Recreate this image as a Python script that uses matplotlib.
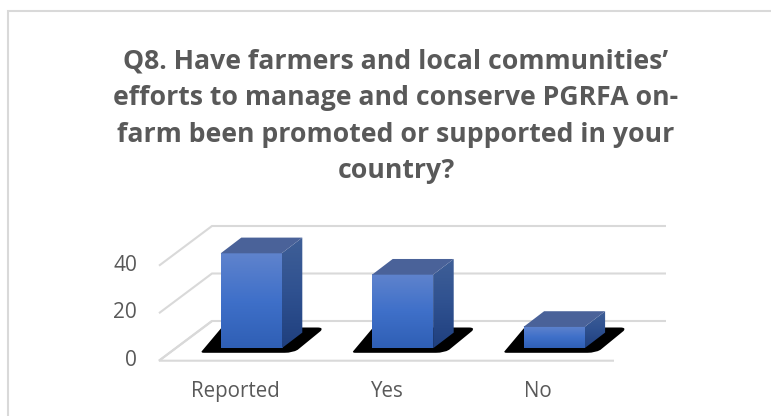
import matplotlib
matplotlib.use("Agg")
import matplotlib.pyplot as plt
import numpy as np
from matplotlib.patches import Polygon, PathPatch
from matplotlib.path import Path

categories = ["Reported", "Yes", "No"]
values = [40, 31, 9]
y_ticks = [0, 20, 40]
title_lines = [
    "Q8. Have farmers and local communities’",
    "efforts to manage and conserve PGRFA on-",
    "farm been promoted or supported in your",
    "country?",
]

W, H = 771, 416
GRID = "#d9d9d9"
TEXT = "#595959"
FONT = "Open Sans"

# Oblique projection: x is category position, y is value, depth is a pixel shift
PX_PER_UNIT = 95 / 40
X0, X_STEP, BASE_Y = 251.2, 151.4, 348.3
BAR_W = 61.0
DEPTH_X, DEPTH_Y = 20.6, 15.7
FLOOR_FRONT_Y, FLOOR_BACK_Y = 360.7, 321.0


def px_x(px):
    return (px - X0) / X_STEP


def val_y(py):
    return (BASE_Y - py) / PX_PER_UNIT


fig = plt.figure(figsize=(W / 100, H / 100), dpi=100, facecolor="white")
ax = fig.add_axes([0, 0, 1, 1])
ax.axis("off")

# Chart frame: only the top and left edges show
ax.plot([px_x(W), px_x(8), px_x(8)], [val_y(10.7), val_y(10.7), val_y(H)],
        color=GRID, lw=1.5, zorder=1, solid_joinstyle="miter", solid_capstyle="butt")

# Gridlines: back wall runs plus the slanted side wall
x_front_l, x_back_l = px_x(159), px_x(212)
x_back_r, x_front_r = px_x(666), px_x(614)
front0, back0 = val_y(FLOOR_FRONT_Y), val_y(FLOOR_BACK_Y)
for t in y_ticks:
    ax.plot([x_front_l, x_back_l, x_back_r], [front0 + t, back0 + t, back0 + t],
            color=GRID, lw=1.5, zorder=2, solid_capstyle="butt", solid_joinstyle="miter")
ax.plot([x_back_l, x_front_l, x_front_r], [back0, front0, front0],
        color=GRID, lw=1.5, zorder=2, solid_capstyle="butt", solid_joinstyle="miter")

# Value and category labels
for t in y_ticks:
    ax.text(px_x(137), front0 + t + 0.2, str(t), ha="right", va="center",
            fontsize=15, color=TEXT, family=FONT, zorder=5)
for i, c in enumerate(categories):
    ax.text(px_x(235.5) + i * 151 / X_STEP, val_y(397), c, ha="center", va="baseline",
            fontsize=14.8, color=TEXT, family=FONT, zorder=5)

# Title, placed by the baseline of its last line
ax.text(px_x(396), val_y(178.5), "\n".join(title_lines), ha="center", va="baseline",
        multialignment="center", fontsize=19.15, fontweight="bold", color=TEXT,
        family=FONT, linespacing=1.53, zorder=5)

# Top-to-bottom gradients used on the faces of each bar
front_cmap = matplotlib.colors.LinearSegmentedColormap.from_list(
    "front", ["#5f83cd", "#3f70c9", "#2f5fb5"])
side_cmap = matplotlib.colors.LinearSegmentedColormap.from_list(
    "side", ["#3f5f97", "#2f5190", "#1f3f7e"])
grad = np.linspace(0, 1, 128).reshape(-1, 1)
w = BAR_W / X_STEP
ddx = DEPTH_X / X_STEP
ddy = DEPTH_Y / PX_PER_UNIT

for i, v in enumerate(values):
    xl, xr = i - w / 2, i + w / 2
    u = 1 / X_STEP

    # Drop shadow on the floor, with rounded corners
    sb, st = val_y(352.8), val_y(327.5)
    px = 1 / PX_PER_UNIT
    verts = [(xl - 17 * u, sb), (xr + 3 * u, sb), (xr + 11 * u, sb), (xr + 16 * u, sb + 3 * px),
             (xr + 39 * u, st - 3.5 * px), (xr + 42 * u, st), (xr + 36 * u, st),
             (xl + 1 * u, st), (xl - 19 * u, sb + 1.5 * px), (xl - 20 * u, sb), (xl - 17 * u, sb)]
    codes = [Path.MOVETO, Path.LINETO, Path.CURVE3, Path.CURVE3, Path.LINETO, Path.CURVE3, Path.CURVE3,
             Path.LINETO, Path.LINETO, Path.CURVE3, Path.CURVE3]
    ax.add_patch(PathPatch(Path(verts, codes), fc="black", ec="none", zorder=3))

    # Front face
    ax.imshow(grad, extent=(xl, xr, 0, v), aspect="auto", cmap=front_cmap, zorder=4)
    # Right side face
    side = Polygon([(xr, 0), (xr + ddx, ddy), (xr + ddx, v + ddy), (xr, v)], closed=True,
                   transform=ax.transData)
    im2 = ax.imshow(grad, extent=(xr, xr + ddx, 0, v + ddy), aspect="auto", cmap=side_cmap, zorder=4)
    im2.set_clip_path(side)
    # Top face
    ax.add_patch(Polygon([(xl, v), (xr, v), (xr + ddx, v + ddy), (xl + ddx, v + ddy)], closed=True,
                         fc="#4a6299", ec="none", zorder=4))

ax.set_xlim(px_x(0), px_x(W))
ax.set_ylim(val_y(H), val_y(0))
fig.savefig("out.png", dpi=100)
